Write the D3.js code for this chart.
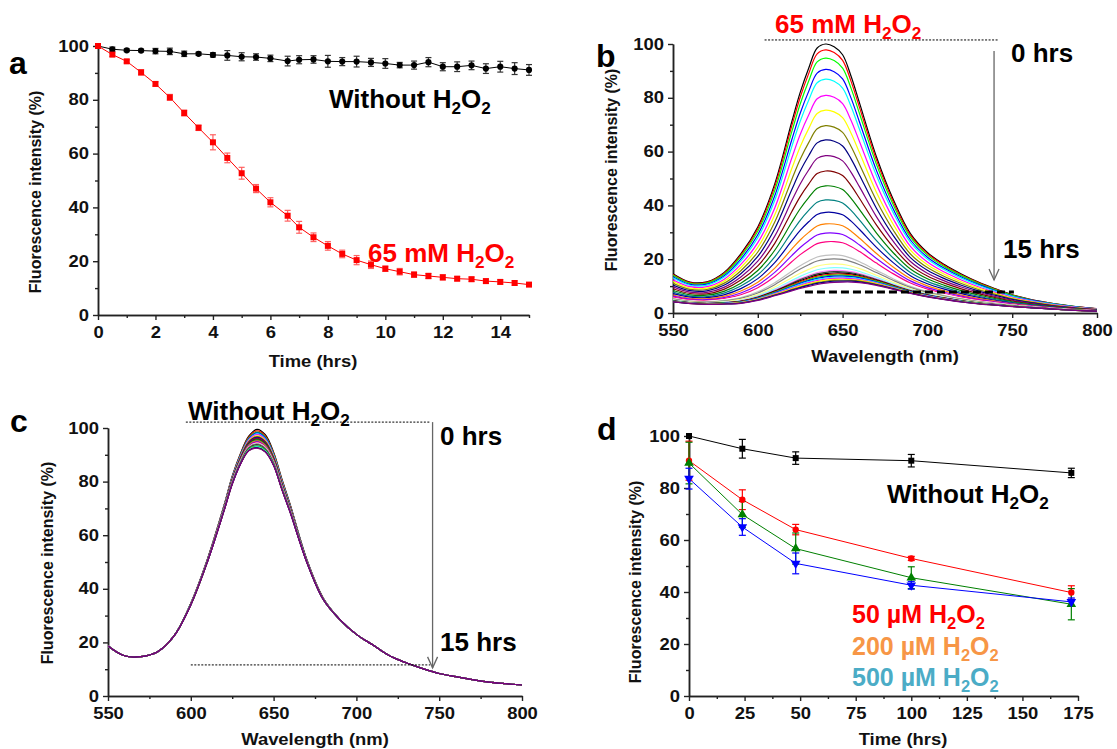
<!DOCTYPE html>
<html><head><meta charset="utf-8">
<script src="https://cdn.jsdelivr.net/npm/d3@7"></script>
<style>
body{margin:0;background:#fff;}
svg text{font-family:"Liberation Sans",Arial,sans-serif;font-weight:bold;}
</style></head><body>
<svg id="fig" width="1117" height="749"></svg>
<script>
// ---------------- DATA ----------------
// Panel a: time course (hrs)
const timeA = [0,0.5,1,1.5,2,2.5,3,3.5,4,4.5,5,5.5,6,6.6,7,7.5,8,8.5,9,9.5,10,10.5,11,11.5,12,12.5,13,13.5,14,14.5,15];
const withoutA = [100,98.8,98.4,98.3,98.1,98,97.1,97.1,96.7,96.5,96,95.9,95.4,94.4,94.9,95,94.3,94.2,94.2,93.9,93.5,92.9,92.9,94,92.3,92.3,92.8,91.6,92.3,91.6,91.1];
const withoutAErr = [0,0.8,0.5,0.5,1,1.2,1,0.6,0.8,1.8,1.5,1.2,1.2,1.8,1.5,1.4,2.2,1.5,2,1.5,1.8,1,1.5,1.7,1.5,1.8,1.6,1.8,2,2.2,2];
const h2o2A = [100,96.8,94.3,90.2,85.9,80.9,75.1,69.6,64.2,58.4,52.7,47,41.9,36.9,32.6,28.9,25.7,22.7,20.4,18.7,17.2,16.1,15,14.5,14,13.5,13.3,12.6,12.3,11.9,11.3];
const h2o2AErr = [0,0.7,0.6,1,0.8,1.1,1.1,1,2.8,1.8,2.2,1.5,1.7,2,2.2,1.6,1.6,1.4,1.7,1.4,1,1.2,1,1,1,0.8,0.8,0.8,0.8,0.8,0.7];
const xTicksA = [0,2,4,6,8,10,12,14];
const yTicks = [0,20,40,60,80,100];

// Panels b, c: spectra (wavelength nm)
const wavelengths = [550,560,570,580,590,600,610,620,625,630,635,640,645,650,655,660,670,680,690,700,710,720,730,740,750,760,770,780,790,800];
const spec0hB  = [14.6,11.5,11.6,15,22,32,48,71,82,91,98.5,100,99,96,88,78,58,42,29.5,22.5,18,14.5,11.5,9,6.8,5.2,4,3,2.2,1.6];
const spec15hB = [4.1,3.5,3.2,3.3,3.6,4.7,6.4,8.2,9.1,9.9,10.6,11.1,11.4,11.5,11.5,11.3,10.3,8.8,7.3,6,5,4.1,3.4,2.9,2.4,2,1.6,1.2,0.9,0.7];
const peakB = [100,97.8,94.8,90.6,87,81,75.5,69.8,64.5,58.7,53,47.5,42.3,37.7,33.4,30,26.8,24,21.8,20.3,18.4,17,16,15.5,15,14.6,14.2,13.8,13.4,13,12.6,12.2,11.9,11.5];
const spec0hC  = [18.7,15,14.7,16.5,22.5,34.6,51,71,82,90.5,97,99.5,97.5,91,81,71.5,51,36.5,28.5,23,19,15,12.4,10.2,8.4,7.2,6.1,5.2,4.6,4.1];
const spec15hC = [18.7,15,14.7,16.5,22.5,34,50,69,79,86.5,91.5,92.5,91,86,77,68.5,50,36,28.5,23,19,15,12.4,10.2,8.4,7.2,6.1,5.2,4.6,4.1];
const peakC = [100,99.4,98.9,98.6,98.2,97.9,97.4,97.1,96.8,96.5,96.2,95.9,95.6,95.2,95.4,95,94.7,94.5,94.3,94.1,93.8,93.6,93.4,93.9,93.2,93.1,93.3,92.9,93,92.7,92.8,92.6,92.7,92.5];
const xTicksWl = [550,600,650,700,750,800];
const originColors = ["#000000","#FF0000","#00FF00","#0000FF","#00FFFF","#FF00FF","#FFFF00","#808000","#000080","#800080","#800000","#008000","#008080","#0000A0","#FF8000","#8000FF","#FF0080","#FFFFFF","#C0C0C0","#808080","#FFFF80","#80FFFF","#FF80FF","#404040"];

// Panel d: long-term time course (hrs)
const timeD = [0,24,48,100,172];
const withoutD = [100,95.1,91.5,90.5,85.8];
const withoutDErr = [0,3.6,2.4,2.4,1.8];
const uM50D = [90.5,75.5,64,52.9,39.8];
const uM50DErr = [7.5,3.8,2,0.8,2.6];
const uM200D = [89.6,69.8,56.7,45.5,35.3];
const uM200DErr = [8,5,6,4.2,6];
const uM500D = [83.6,65,51,42.6,36.2];
const uM500DErr = [4,3.2,4,1.5,1.5];
const xTicksD = [0,25,50,75,100,125,150,175];

// ---------------- DRAWING ----------------
const svg = d3.select("#fig");
const FONT = "Liberation Sans, Arial, sans-serif";
const AX = "#222";

function stretch(sel, f){
  sel.each(function(){
    const L = this.getComputedTextLength();
    if (L > 0){ this.setAttribute("textLength", L*f); this.setAttribute("lengthAdjust","spacingAndGlyphs"); }
  });
}
function range(a,b,s){ const r=[]; for(let v=a; v<=b+1e-9; v+=s) r.push(+v.toFixed(4)); return r; }

function makePanel(c){
  const g = svg.append("g");
  const x = d3.scaleLinear().domain(c.xd).range([c.x0,c.x1]);
  const y = d3.scaleLinear().domain([0,100]).range([c.y0,c.y1]);
  const style = s => {
    s.attr("font-size",16).attr("font-family",FONT).attr("font-weight","bold");
    s.selectAll("path.domain").attr("stroke",AX).attr("stroke-width",1.5);
    s.selectAll(".tick line").attr("stroke",AX).attr("stroke-width",1.4);
    s.selectAll(".tick text").attr("fill","#111");
  };
  g.append("g").attr("transform",`translate(0,${c.y0})`)
    .call(d3.axisBottom(x).tickValues(c.xMinor).tickSize(3).tickFormat("").tickSizeOuter(0)).call(style);
  g.append("g").attr("transform",`translate(${c.x0},0)`)
    .call(d3.axisLeft(y).tickValues(range(10,90,20)).tickSize(3).tickFormat("").tickSizeOuter(0)).call(style);
  const xa = g.append("g").attr("transform",`translate(0,${c.y0})`)
    .call(d3.axisBottom(x).tickValues(c.xTicks).tickSize(5).tickPadding(7).tickSizeOuter(0)).call(style);
  const ya = g.append("g").attr("transform",`translate(${c.x0},0)`)
    .call(d3.axisLeft(y).tickValues(yTicks).tickSize(5).tickPadding(4).tickSizeOuter(0)).call(style);
  stretch(xa.selectAll(".tick text"),1.15);
  stretch(ya.selectAll(".tick text"),1.15);
  const xt = g.append("text").attr("x",c.xTitleX).attr("y",c.xTitleY).attr("text-anchor","middle")
    .attr("font-size",16).attr("fill","#111").text(c.xTitle);
  stretch(xt,1.15);
  g.append("text").attr("transform",`translate(${c.yTitleX},${c.yTitleY}) rotate(-90)`)
    .attr("text-anchor","middle").attr("font-size",16).attr("fill","#111").text("Fluorescence intensity (%)");
  g.append("text").attr("x",c.letterX).attr("y",c.letterY).attr("font-size",32).attr("fill","#000").text(c.letter);
  return {g,x,y};
}

function h2o2Label(g, x, y, prefix, size, color, family){
  const t = g.append("text").attr("x",x).attr("y",y).attr("font-size",size).attr("fill",color)
    .attr("font-family",family||FONT).attr("font-weight","bold");
  const d = size*0.22;
  t.append("tspan").text(prefix+"H");
  t.append("tspan").attr("font-size",size*0.66).attr("dy",d).text("2");
  t.append("tspan").attr("dy",-d).text("O");
  t.append("tspan").attr("font-size",size*0.66).attr("dy",d).text("2");
  return t;
}
function plainLabel(g,x,y,txt,size,color){
  return g.append("text").attr("x",x).attr("y",y).attr("font-size",size).attr("fill",color).text(txt);
}
function errorBars(g,x,y,xs,ys,es,color,cap,w){
  const eg = g.append("g").attr("stroke",color).attr("stroke-width",w||1.2).attr("fill","none");
  xs.forEach((t,i)=>{
    if(!es[i]) return;
    const X=x(t), y1=y(ys[i]+es[i]), y2=y(ys[i]-es[i]);
    eg.append("line").attr("x1",X).attr("x2",X).attr("y1",y1).attr("y2",y2);
    eg.append("line").attr("x1",X-cap).attr("x2",X+cap).attr("y1",y1).attr("y2",y1);
    eg.append("line").attr("x1",X-cap).attr("x2",X+cap).attr("y1",y2).attr("y2",y2);
  });
}
function series(g,x,y,xs,ys,color,w){
  g.append("path").datum(xs.map((t,i)=>[t,ys[i]]))
    .attr("d",d3.line().x(d=>x(d[0])).y(d=>y(d[1])))
    .attr("fill","none").attr("stroke",color).attr("stroke-width",w||1);
}
function markers(g,x,y,xs,ys,type,color,size){
  g.selectAll(null).data(xs.map((t,i)=>[t,ys[i]])).enter().append("path")
    .attr("transform",d=>`translate(${x(d[0])},${y(d[1])})${type==="down"?" rotate(180)":""}`)
    .attr("d",d3.symbol().type(type==="circle"?d3.symbolCircle:type==="square"?d3.symbolSquare:d3.symbolTriangle).size(size))
    .attr("fill",color);
}
function arrow(g,X,Y1,Y2){
  const a = g.append("g").attr("stroke","#666").attr("stroke-width",1.3).attr("fill","none");
  a.append("line").attr("x1",X).attr("x2",X).attr("y1",Y1).attr("y2",Y2);
  a.append("path").attr("d",`M${X-5},${Y2-11} L${X},${Y2} L${X+5},${Y2-11}`);
}
function spectra(g,x,y,clipId,cx,cy,cw,ch,top,bottom,peaks){
  g.append("clipPath").attr("id",clipId).append("rect").attr("x",cx).attr("y",cy).attr("width",cw).attr("height",ch);
  const lg = g.append("g").attr("clip-path",`url(#${clipId})`);
  const line = d3.line().x(d=>x(d[0])).y(d=>y(d[1])).curve(d3.curveCatmullRom);
  const lo = d3.min(peaks), hi = d3.max(peaks);
  peaks.forEach((pk,i)=>{
    const w = (pk-lo)/(hi-lo);
    const pts = wavelengths.map((wl,j)=>[wl, bottom[j] + (top[j]-bottom[j])*w]);
    lg.append("path").datum(pts).attr("d",line).attr("fill","none")
      .attr("stroke",originColors[i%originColors.length]).attr("stroke-width",1.2);
  });
}

// ----- Panel a -----
{
  const p = makePanel({x0:98,x1:529,y0:315,y1:46,xd:[0,15],xTicks:xTicksA,xMinor:range(1,15,2),
    xTitle:"Time (hrs)",xTitleX:313,xTitleY:367,yTitleX:41,yTitleY:192,letter:"a",letterX:9,letterY:74});
  const {g,x,y} = p;
  series(g,x,y,timeA,withoutA,"#000",1);
  series(g,x,y,timeA,h2o2A,"#FF0000",1);
  errorBars(g,x,y,timeA,withoutA,withoutAErr,"#333",3,1.2);
  errorBars(g,x,y,timeA,h2o2A,h2o2AErr,"#FF6060",3,1.2);
  markers(g,x,y,timeA,withoutA,"circle","#000",30);
  markers(g,x,y,timeA,h2o2A,"square","#FF0000",36);
  h2o2Label(g,329,108,"Without ",26,"#000");
  h2o2Label(g,368,262,"65 mM ",26,"#FF0000");
}

// ----- Panel b -----
{
  const p = makePanel({x0:673,x1:1097,y0:313,y1:44,xd:[550,800],xTicks:xTicksWl,xMinor:range(575,775,50),
    xTitle:"Wavelength (nm)",xTitleX:885,xTitleY:362,yTitleX:617,yTitleY:170,letter:"b",letterX:596,letterY:67});
  const {g,x,y} = p;
  spectra(g,x,y,"clipB",673,30,424,283,spec0hB,spec15hB,peakB);
  g.append("line").attr("x1",x(604)).attr("x2",x(741.6)).attr("y1",y(101.5)).attr("y2",y(101.5))
    .attr("stroke","#000").attr("stroke-width",1).attr("stroke-dasharray","2,1.5");
  g.append("line").attr("x1",x(627.8)).attr("x2",x(751)).attr("y1",y(7.8)).attr("y2",y(7.8))
    .attr("stroke","#000").attr("stroke-width",3).attr("stroke-dasharray","8,4");
  arrow(g,x(739.3),y(97.4),y(12.3));
  h2o2Label(g,775,33,"65 mM ",26,"#FF0000");
  plainLabel(g,1011,62,"0 hrs",26,"#000");
  plainLabel(g,1003,258,"15 hrs",26,"#000");
}

// ----- Panel c -----
{
  const p = makePanel({x0:108,x1:522,y0:696,y1:428,xd:[550,800],xTicks:xTicksWl,xMinor:range(575,775,50),
    xTitle:"Wavelength (nm)",xTitleX:315,xTitleY:745,yTitleX:53,yTitleY:563,letter:"c",letterX:10,letterY:432});
  const {g,x,y} = p;
  spectra(g,x,y,"clipC",108,410,414,286,spec0hC,spec15hC,peakC);
  g.append("line").attr("x1",x(597)).attr("x2",x(744.5)).attr("y1",y(102.2)).attr("y2",y(102.2))
    .attr("stroke","#000").attr("stroke-width",1).attr("stroke-dasharray","2,1.5");
  g.append("line").attr("x1",x(600)).attr("x2",x(744.5)).attr("y1",y(11.6)).attr("y2",y(11.6))
    .attr("stroke","#000").attr("stroke-width",1).attr("stroke-dasharray","2,1.5");
  arrow(g,x(746),y(102.2),y(10.5));
  h2o2Label(g,188,420,"Without ",26,"#000");
  plainLabel(g,440,445,"0 hrs",26,"#000");
  plainLabel(g,440,651,"15 hrs",26,"#000");
}

// ----- Panel d -----
{
  const p = makePanel({x0:689,x1:1078,y0:696,y1:436,xd:[0,175],xTicks:xTicksD,xMinor:range(12.5,162.5,25),
    xTitle:"Time (hrs)",xTitleX:903,xTitleY:745,yTitleX:641,yTitleY:582,letter:"d",letterX:597,letterY:440});
  const {g,x,y} = p;
  series(g,x,y,timeD,withoutD,"#000",1);
  series(g,x,y,timeD,uM50D,"#FF0000",1);
  series(g,x,y,timeD,uM200D,"#008000",1);
  series(g,x,y,timeD,uM500D,"#0000FF",1);
  errorBars(g,x,y,timeD,withoutD,withoutDErr,"#000",3.5,1.2);
  errorBars(g,x,y,timeD,uM50D,uM50DErr,"#FF0000",3.5,1.2);
  errorBars(g,x,y,timeD,uM200D,uM200DErr,"#008000",3.5,1.2);
  errorBars(g,x,y,timeD,uM500D,uM500DErr,"#0000FF",3.5,1.2);
  markers(g,x,y,timeD,withoutD,"square","#000",36);
  markers(g,x,y,timeD,uM50D,"circle","#FF0000",32);
  markers(g,x,y,timeD,uM200D,"triangle","#008000",40);
  markers(g,x,y,timeD,uM500D,"down","#0000FF",40);
  h2o2Label(g,887,503,"Without ",26,"#000");
  h2o2Label(g,852,623,"50 \u00B5M ",25,"#FF0000","Lato, 'Open Sans', sans-serif");
  h2o2Label(g,852,655,"200 \u00B5M ",25,"#F79646","Lato, 'Open Sans', sans-serif");
  h2o2Label(g,852,686,"500 \u00B5M ",25,"#4BACC6","Lato, 'Open Sans', sans-serif");
}
</script>
</body></html>
